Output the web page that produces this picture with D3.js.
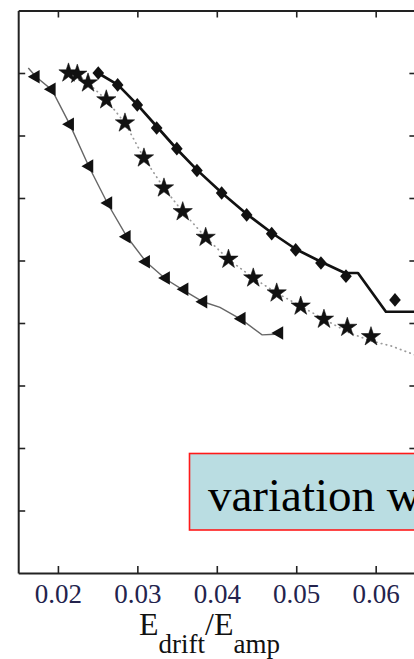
<!DOCTYPE html>
<html>
<head>
<meta charset="utf-8">
<script src="https://cdn.jsdelivr.net/npm/d3@7"></script>
<style>
  html, body { margin: 0; padding: 0; background: #fff; overflow: hidden; }
  svg { display: block; }
</style>
</head>
<body>
<svg id="chart" width="414" height="659"></svg>
<script>
// Field ratio on the x axis, signal (arbitrary units) on the y axis.
const xTicks = [0.02, 0.03, 0.04, 0.05, 0.06];
const xTickLabels = ["0.02", "0.03", "0.04", "0.05", "0.06"];
const yTicks = [1, 2, 3, 4, 5, 6, 7, 8];

// Diamonds: measured points
const diamondX = [0.02508, 0.02752, 0.02999, 0.03243, 0.03497, 0.03750, 0.04061, 0.04376, 0.04691, 0.04993, 0.05311, 0.05626, 0.06243];
const diamondY = [8.00, 7.81, 7.49, 7.12, 6.79, 6.44, 6.08, 5.73, 5.43, 5.17, 4.96, 4.75, 4.37];
// Thick solid curve running with the diamonds
const solidX = [0.02504, 0.02756, 0.03002, 0.03247, 0.03499, 0.03750, 0.04065, 0.04380, 0.04694, 0.04997, 0.05311, 0.05613, 0.05777, 0.06129, 0.06495];
const solidY = [8.00, 7.81, 7.49, 7.14, 6.78, 6.45, 6.08, 5.74, 5.44, 5.18, 4.98, 4.80, 4.80, 4.18, 4.18];

// Stars: measured points
const starX = [0.02133, 0.02244, 0.02379, 0.02609, 0.02844, 0.03083, 0.03335, 0.03571, 0.03860, 0.04147, 0.04459, 0.04754, 0.05056, 0.05349, 0.05643, 0.05941];
const starY = [8.00, 7.98, 7.84, 7.57, 7.20, 6.64, 6.16, 5.78, 5.37, 5.02, 4.72, 4.48, 4.27, 4.06, 3.93, 3.78];
// Dotted curve running with the stars
const dottedX = [0.02133, 0.02244, 0.02379, 0.02609, 0.02844, 0.03083, 0.03335, 0.03571, 0.03860, 0.04147, 0.04459, 0.04754, 0.05056, 0.05349, 0.05673, 0.05950, 0.06202, 0.06491];
const dottedY = [8.00, 7.98, 7.84, 7.57, 7.20, 6.64, 6.16, 5.78, 5.37, 5.02, 4.72, 4.48, 4.27, 4.06, 3.84, 3.71, 3.63, 3.49];

// Triangles: measured points
const triX = [0.01720, 0.01922, 0.02152, 0.02395, 0.02634, 0.02866, 0.03109, 0.03360, 0.03593, 0.03830, 0.04313, 0.04786];
const triY = [7.94, 7.74, 7.18, 6.51, 5.92, 5.38, 4.98, 4.72, 4.54, 4.34, 4.07, 3.84];
// Thin grey curve running with the triangles
const thinX = [0.01627, 0.01724, 0.01925, 0.02152, 0.02391, 0.02630, 0.02869, 0.03108, 0.03360, 0.03599, 0.03826, 0.04040, 0.04317, 0.04569, 0.04733];
const thinY = [8.08, 7.94, 7.73, 7.17, 6.50, 5.90, 5.38, 4.98, 4.70, 4.51, 4.34, 4.25, 4.05, 3.81, 3.82];

const annotation = "variation with";

const svg = d3.select("#chart");
const plotLeft = 18.2, plotRight = 415.4, plotTop = 10.5, plotBottom = 573;

const x = d3.scaleLinear().domain([0.015, 0.065]).range([plotLeft, plotRight]);
const y = d3.scaleLinear().domain([0, 9]).range([plotBottom, plotTop]);

const zip = (xs, ys) => xs.map((v, i) => [v, ys[i]]);
const line = d3.line().x(d => x(d[0])).y(d => y(d[1]));

const serif = "'Liberation Serif', 'Times New Roman', serif";

// Curves
svg.append("path").datum(zip(thinX, thinY))
  .attr("d", line).attr("fill", "none")
  .attr("stroke", "#666").attr("stroke-width", 1.4);

svg.append("path").datum(zip(dottedX, dottedY))
  .attr("d", line).attr("fill", "none")
  .attr("stroke", "#9a9a9a").attr("stroke-width", 1.7)
  .attr("stroke-linecap", "round")
  .attr("stroke-dasharray", "0.5 4.5");

svg.append("path").datum(zip(solidX, solidY))
  .attr("d", line).attr("fill", "none")
  .attr("stroke", "#111").attr("stroke-width", 2.7)
  .attr("stroke-linejoin", "round");

// Markers
const diamondType = {
  draw(ctx, size) {
    const h = Math.sqrt(size) * 0.6, w = h * 0.85;
    ctx.moveTo(0, -h); ctx.lineTo(w, 0); ctx.lineTo(0, h); ctx.lineTo(-w, 0); ctx.closePath();
  }
};

svg.append("g").selectAll("path").data(zip(triX, triY)).join("path")
  .attr("d", d3.symbol().type(d3.symbolTriangle).size(80))
  .attr("transform", d => `translate(${x(d[0])},${y(d[1])}) rotate(-90)`)
  .attr("fill", "#111");

svg.append("g").selectAll("path").data(zip(starX, starY)).join("path")
  .attr("d", d3.symbol().type(d3.symbolStar).size(115))
  .attr("transform", d => `translate(${x(d[0])},${y(d[1])})`)
  .attr("fill", "#111").attr("stroke", "#111").attr("stroke-width", 0.6)
  .attr("stroke-linejoin", "round");

svg.append("g").selectAll("path").data(zip(diamondX, diamondY)).join("path")
  .attr("d", d3.symbol().type(diamondType).size(130))
  .attr("transform", d => `translate(${x(d[0])},${y(d[1])})`)
  .attr("fill", "#111");

// Frame and axes (ticks point inward)
function styleAxis(g) {
  g.select(".domain").attr("stroke", "#222").attr("stroke-width", 2);
  g.selectAll(".tick line").attr("stroke", "#222").attr("stroke-width", 1.6);
}

svg.append("g").attr("transform", `translate(0,${plotTop})`)
  .call(d3.axisTop(x).tickValues(xTicks).tickSize(-7).tickSizeOuter(0).tickFormat(""))
  .call(styleAxis);

svg.append("g").attr("transform", `translate(${plotRight},0)`)
  .call(d3.axisRight(y).tickValues(yTicks).tickSize(-6).tickSizeOuter(0).tickFormat(""))
  .call(styleAxis);

svg.append("g").attr("transform", `translate(${plotLeft},0)`)
  .call(d3.axisLeft(y).tickValues(yTicks).tickSize(-7).tickSizeOuter(0).tickFormat(""))
  .call(styleAxis);

const xAxis = svg.append("g").attr("transform", `translate(0,${plotBottom})`)
  .call(d3.axisBottom(x).tickValues(xTicks).tickSize(-7).tickSizeOuter(0).tickPadding(11)
    .tickFormat((d, i) => xTickLabels[i]))
  .call(styleAxis);
xAxis.selectAll("text")
  .attr("font-family", serif).attr("font-size", 27).attr("fill", "#23234d");

// Axis title: E_drift / E_amp
const title = svg.append("text")
  .attr("x", 139).attr("y", 635)
  .attr("font-family", serif).attr("fill", "#111");
title.append("tspan").attr("font-size", 32).text("E");
title.append("tspan").attr("font-size", 27).attr("dy", 18).text("drift");
title.append("tspan").attr("font-size", 32).attr("dy", -18).text("/E");
title.append("tspan").attr("font-size", 27).attr("dy", 18).text("amp");

// Annotation box
svg.append("rect")
  .attr("x", 189.5).attr("y", 453.5).attr("width", 260).attr("height", 76.5)
  .attr("fill", "#badde2").attr("stroke", "#ff1a1a").attr("stroke-width", 1.6);
svg.append("text")
  .attr("x", 208).attr("y", 510.5)
  .attr("font-family", serif).attr("font-size", 47).attr("fill", "#000")
  .text(annotation);
</script>
</body>
</html>
